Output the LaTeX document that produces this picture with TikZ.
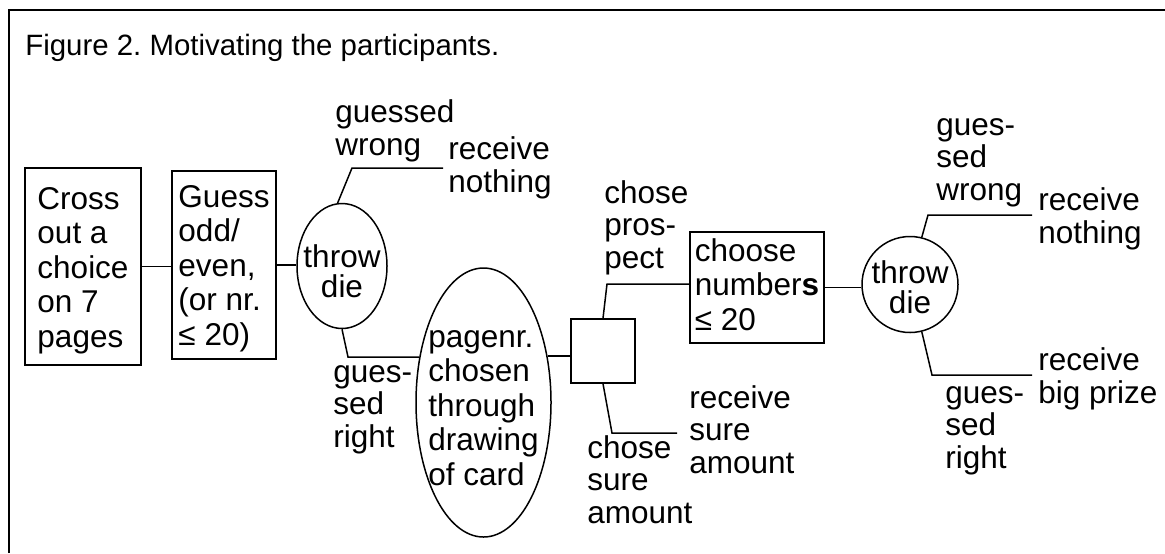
\documentclass[tikz,border=0pt]{standalone}
\usepackage{fontspec}
\setmainfont{Liberation Sans}
\usetikzlibrary{positioning, shapes.geometric}

\begin{document}
\begin{tikzpicture}[
      x=0.5pt, y=-0.5pt,
      every node/.style = {font=\fontsize{15.75pt}{16.2pt}\selectfont},
      box/.style = {draw, line width=0.75pt, align=left, inner sep=0pt, text depth=0pt,
                    font=\fontsize{15.75pt}{17.2pt}\selectfont},
      chance/.style = {draw, ellipse, line width=0.75pt, inner ysep=0pt, inner xsep=-5pt, text depth=0pt,
                       font=\fontsize{15.75pt}{17.2pt}\selectfont},
      lbl/.style = {align=left, inner sep=0pt, anchor=base west},
      link/.style = {line width=0.75pt}
    ]
    \useasboundingbox (0,0) rectangle (1165,553);
    \draw[line width=1pt] (9,553) -- (9,10) -- (1165,10);
    \node[lbl, font=\fontsize{14.7pt}{16pt}\selectfont] (title) at (25,55) {Figure 2.\ Motivating the participants.};

    % decision chain
    \node[box, minimum width=58pt, minimum height=98.5pt, text height=80.5pt] (cross) at (83,266.5) {Cross\\out a\\choice\\on 7\\pages};
    \node[box, minimum width=52pt, minimum height=94pt, text height=80pt] (guess) at (224,265) {Guess\\odd/\\even,\\(or nr.\\≤ 20)};
    \node[chance, align=center, minimum width=45pt, minimum height=62.5pt, text height=31pt,
          font=\fontsize{15.75pt}{15pt}\selectfont] (die1) at (342,266) {throw\\die};
    \node[chance, align=left, minimum width=67.5pt, minimum height=134.5pt, text height=82.5pt] (card) at (483.5,402.5) {pagenr.\\chosen\\through\\drawing\\of card};
    \node[draw, line width=0.75pt, minimum size=32pt, inner sep=0pt] (sq) at (603,351) {};
    \node[box, minimum width=67pt, minimum height=55.5pt, text height=42.5pt] (choose) at (757,287.5) {choose\\number\textbf{s}\\≤ 20};
    \node[draw, circle, line width=0.75pt, minimum size=48pt, inner sep=-1pt, align=center, text height=28.5pt, text depth=0pt,
          font=\fontsize{15.75pt}{15pt}\selectfont] (die2) at (910,284.5) {throw\\die};

    \coordinate (w1) at (352,168);
    \coordinate (w1end) at (443,168);
    \coordinate (r1) at (348,357);
    \coordinate (cp) at (607,284);
    \coordinate (cs) at (612,433);
    \coordinate (csend) at (677,433);
    \coordinate (w2) at (928,215);
    \coordinate (w2end) at (1032,215);
    \coordinate (r2) at (932,375);
    \coordinate (r2end) at (1032,375);

    \draw[link] (cross.east) -- (cross.east -| guess.west);
    \draw[link] (guess.east) -- (guess.east -| die1.west);
    \draw[link] (die1.94) -- (w1) -- (w1end);
    \draw[link] (die1.270) -- (r1) -- (r1 -| card.144);
    \draw[link] (card.36) -- (card.36 -| sq.west);
    \draw[link] (sq.north) -- (cp) -- (cp -| choose.west);
    \draw[link] (sq.south) -- (cs) -- (csend);
    \draw[link] (choose.east) -- (choose.east -| die2.west);
    \draw[link] (die2.76) -- (w2) -- (w2end);
    \draw[link] (die2.-76) -- (r2) -- (r2end);

    % branch labels (placed at the baseline of their last line)
    \node[lbl] (wrong1) at (335,155) {guessed\\wrong};
    \node[lbl] (nothing1) at (448,192) {receive\\nothing};
    \node[lbl] (right1) at (333,447) {gues-\\sed\\right};
    \node[lbl] (prospect) at (604,268) {chose\\pros-\\pect};
    \node[lbl] (sure) at (587,523) {chose\\sure\\amount};
    \node[lbl] (sureamt) at (689,473) {receive\\sure\\amount};
    \node[lbl] (wrong2) at (936,200) {gues-\\sed\\wrong};
    \node[lbl] (nothing2) at (1038,243) {receive\\nothing};
    \node[lbl] (right2) at (945,468) {gues-\\sed\\right};
    \node[lbl] (prize) at (1038,403) {receive\\big prize};

\end{tikzpicture}
\end{document}
